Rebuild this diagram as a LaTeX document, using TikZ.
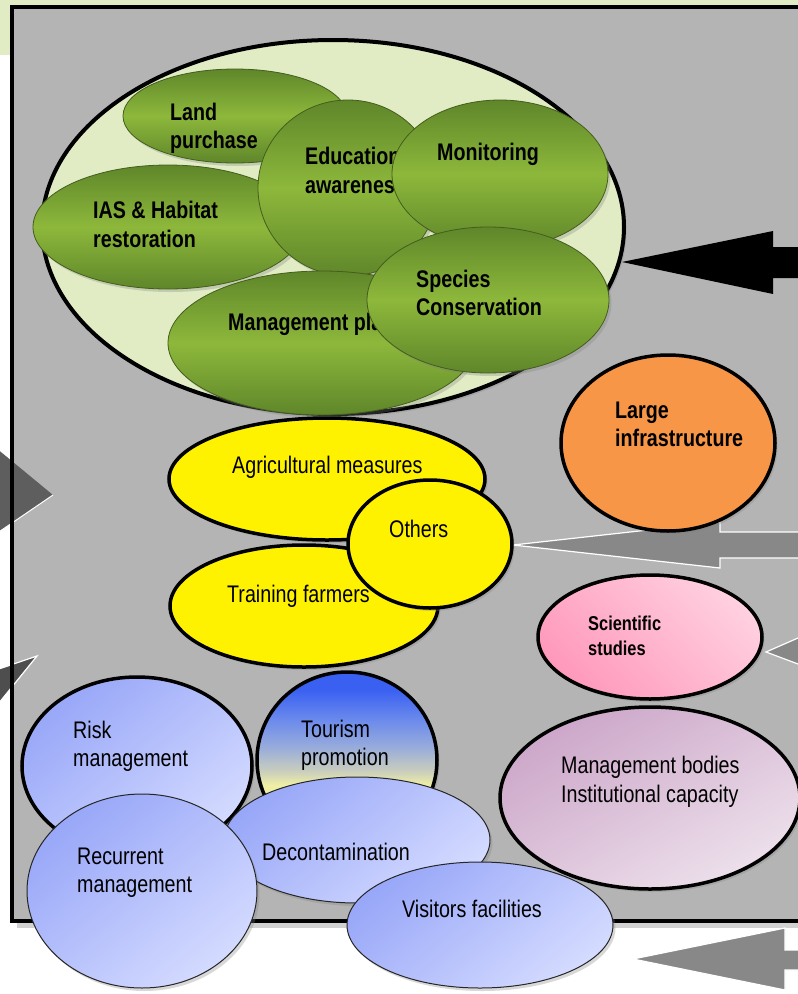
\documentclass[tikz,border=0pt]{standalone}
\usepackage{fontspec}
\setmainfont{Liberation Sans}[FakeStretch=0.82]
\usetikzlibrary{shapes.geometric,shadows}
\definecolor{band}{HTML}{E1ECC4}
\definecolor{framefill}{HTML}{B4B4B4}
\definecolor{gdark}{HTML}{5F862A}
\definecolor{glight}{HTML}{8DB83B}
\definecolor{orangef}{HTML}{F79646}
\definecolor{pinkd}{HTML}{FF99BB}
\definecolor{pinkl}{HTML}{FFD0E0}
\definecolor{mauved}{HTML}{CCA6C9}
\definecolor{mauvel}{HTML}{EDE0EB}
\definecolor{blued}{HTML}{98A7F8}
\definecolor{bluel}{HTML}{D4DBFF}
\definecolor{tblue}{RGB}{58,96,242}
\definecolor{tblue2}{RGB}{110,140,235}
\definecolor{tmid}{RGB}{150,170,220}
\definecolor{tgray}{RGB}{200,205,190}
\definecolor{tyel}{RGB}{238,238,165}
\definecolor{arrgray}{HTML}{888888}
\definecolor{arrdark}{HTML}{5E5E5E}
\pgfdeclareverticalshading{tourshade}{100bp}{color(0bp)=(tyel); color(43bp)=(tyel); color(47bp)=(tgray); color(54bp)=(tmid); color(61bp)=(tblue2); color(70bp)=(tblue); color(100bp)=(tblue)}
\begin{document}
\begin{tikzpicture}[x=1pt,y=-1pt,
  ell/.style={ellipse, inner sep=0pt, outer sep=0pt},
  shad/.style={drop shadow={opacity=0.3,shadow xshift=2.5pt,shadow yshift=-3pt}},
  greenell/.style={ell, draw=gdark!70!black, line width=0.8pt, top color=gdark, bottom color=gdark, middle color=glight, shad},
  thick ell/.style={ell, draw=black, line width=3.5pt, shad},
  yell/.style={thick ell, fill=yellow},
  bluethick/.style={thick ell, top color=blued, bottom color=bluel, shading angle=40},
  bluethin/.style={ell, draw=black!85, line width=1pt, top color=blued, bottom color=bluel, shading angle=40, shad},
  lbl/.style={font=\fontsize{24}{28}\selectfont, inner sep=0pt, anchor=base west, text=black},
  lblb/.style={lbl, font=\fontsize{24}{28}\selectfont\bfseries},
  lbls/.style={lbl, font=\fontsize{20}{25}\selectfont\bfseries},
  blockarrow/.style={fill=arrgray, draw=white, line width=1.2pt, line join=miter}
]
\useasboundingbox (0,0) rectangle (798,994);
\clip (0,0) rectangle (798,994);
% background band and frame
\fill[white] (0,0) rectangle (798,994);
\fill[band] (0,0) rectangle (798,55);
\fill[black!18] (17,921) rectangle (812,928);
\fill[framefill] (12,7) rectangle (812,921);
% left arrows (under the frame border)
\fill[arrdark] (-10,443) -- (53,495) -- (-10,538) -- cycle;
\draw[white, line width=1pt] (53,495) -- (-10,538);
\fill[arrdark!110] (-10,672) -- (37,656) -- (-10,714) -- cycle;
\draw[white, line width=1.2pt] (-10,672) -- (37,656) -- (-10,714);
\draw[line width=4pt] (12,7) rectangle (812,921);
% right arrows
\fill[black] (622,262) -- (773,231) -- (773,247) -- (805,247) -- (805,278) -- (773,278) -- (773,294) -- cycle;
\draw[blockarrow] (513,545) -- (720,522) -- (720,532) -- (805,532) -- (805,558) -- (720,558) -- (720,568) -- cycle;
\draw[blockarrow] (766,652) -- (830,624) -- (830,676) -- cycle;
\draw[blockarrow] (633,959) -- (785,928) -- (785,950) -- (805,950) -- (805,970) -- (785,970) -- (785,990) -- cycle;
% big green container
\node[thick ell, fill=band, line width=4pt, minimum width=582pt, minimum height=374pt] (big) at (333,227) {};
% green ellipses
\node[greenell, minimum width=224pt, minimum height=94pt] (land) at (235,116) {};
\node[lblb] (land1) at (170,120) {Land};
\node[lblb] (land2) at (170,148) {purchase};
\node[greenell, minimum width=270pt, minimum height=124pt] (ias) at (168,227) {};
\node[lblb] (ias1) at (93,218) {IAS \& Habitat};
\node[lblb] (ias2) at (93,247) {restoration};
\node[greenell, minimum width=180pt, minimum height=176pt] (edu) at (348,188) {};
\node[lblb] (edu1) at (305,164) {Education};
\node[lblb] (edu2) at (305,193) {awareness};
\node[greenell, minimum width=216pt, minimum height=148pt] (mon) at (500,174) {};
\node[lblb] (mon1) at (437,160) {Monitoring};
\node[greenell, minimum width=308pt, minimum height=144pt] (plan) at (322,343) {};
\node[lblb] (plan1) at (228,330) {Management plan};
\node[greenell, minimum width=242pt, minimum height=146pt] (spec) at (488,300) {};
\node[lblb] (spec1) at (416,287) {Species};
\node[lblb] (spec2) at (416,315) {Conservation};
% large infrastructure
\node[thick ell, fill=orangef, minimum width=214pt, minimum height=176pt] (infra) at (668,443) {};
\node[lblb] (infra1) at (615,418) {Large};
\node[lblb] (infra2) at (615,446) {infrastructure};
% yellow group
\node[yell, minimum width=316pt, minimum height=122pt] (agri) at (327,479) {};
\node[lbl] (agri1) at (232,473) {Agricultural measures};
\node[yell, minimum width=268pt, minimum height=122pt] (train) at (304,606) {};
\node[lbl] (train1) at (227,602) {Training farmers};
\node[yell, minimum width=164pt, minimum height=128pt] (others) at (430,544) {};
\node[lbl] (others1) at (389,537) {Others};
% scientific studies
\node[thick ell, top color=pinkl, bottom color=pinkd, shading angle=-45, minimum width=224pt, minimum height=124pt] (sci) at (650,637) {};
\node[lbls] (sci1) at (588,630) {Scientific};
\node[lbls] (sci2) at (588,655) {studies};
% management bodies
\node[thick ell, top color=mauved, bottom color=mauvel, shading angle=30, minimum width=300pt, minimum height=182pt] (bodies) at (650,798) {};
\node[lbl] (bodies1) at (561,773) {Management bodies};
\node[lbl] (bodies2) at (561,802) {Institutional capacity};
% blue group
\node[bluethick, minimum width=230pt, minimum height=178pt] (risk) at (137,766) {};
\node[lbl] (risk1) at (73,738) {Risk};
\node[lbl] (risk2) at (73,766) {management};
\node[thick ell, shading=tourshade, minimum width=180pt, minimum height=176pt] (tour) at (347,760) {};
\node[lbl] (tour1) at (301,737) {Tourism};
\node[lbl] (tour2) at (301,765) {promotion};
\node[bluethin, minimum width=266pt, minimum height=126pt] (decon) at (357,840) {};
\node[lbl] (decon1) at (262,860) {Decontamination};
\node[bluethin, minimum width=230pt, minimum height=194pt] (recur) at (142,891) {};
\node[lbl] (recur1) at (77,864) {Recurrent};
\node[lbl] (recur2) at (77,892) {management};
\node[bluethin, minimum width=266pt, minimum height=126pt] (visit) at (480,925) {};
\node[lbl] (visit1) at (402,917) {Visitors facilities};
\end{tikzpicture}
\end{document}
